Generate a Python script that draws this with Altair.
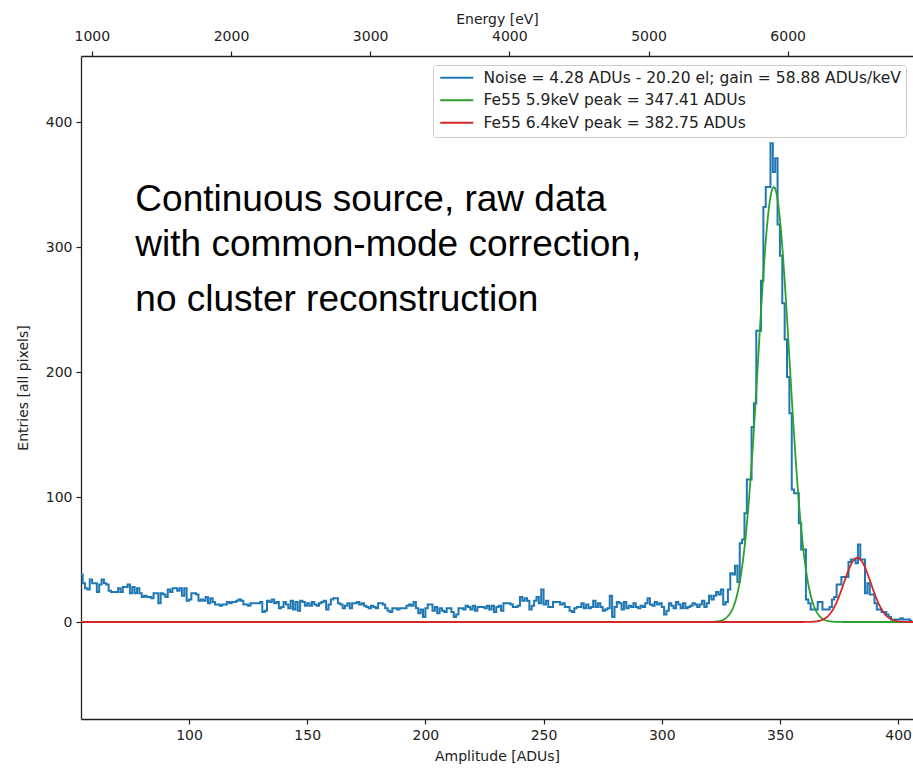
import altair as alt
import pandas as pd
import numpy as np

# ---------------- data ----------------
bin_start = 54          # left edge of first histogram bin [ADUs]
bin_width = 1           # [ADUs]
counts = [
    38, 31, 27, 26, 34, 31, 31, 24, 30, 34,
    31, 30, 25, 24, 24, 24, 27, 24, 28, 28,
    30, 23, 28, 23, 27, 23, 20, 21, 20, 20,
    19, 23, 23, 15, 23, 22, 20, 26, 24, 27,
    27, 25, 27, 21, 27, 17, 18, 23, 23, 22,
    17, 18, 17, 20, 15, 19, 16, 14, 14, 13,
    14, 14, 16, 15, 16, 16, 17, 18, 17, 14,
    14, 13, 15, 15, 15, 15, 16, 8, 9, 17,
    16, 18, 15, 16, 11, 12, 16, 14, 11, 17,
    10, 16, 9, 17, 16, 13, 15, 13, 16, 14,
    13, 15, 16, 17, 10, 14, 18, 19, 19, 15,
    14, 11, 13, 15, 11, 15, 15, 16, 14, 15,
    13, 12, 11, 13, 12, 11, 15, 15, 14, 11,
    9, 8, 11, 11, 10, 11, 11, 11, 13, 14,
    13, 16, 11, 7, 10, 4, 11, 14, 14, 9,
    12, 7, 11, 9, 8, 11, 11, 8, 4, 6,
    11, 11, 10, 13, 12, 10, 13, 9, 12, 12,
    12, 11, 13, 10, 13, 8, 12, 13, 9, 15,
    15, 15, 14, 12, 12, 13, 20, 17, 19, 17,
    10, 13, 17, 20, 15, 26, 14, 17, 12, 12,
    16, 16, 16, 14, 15, 12, 12, 9, 8, 11,
    12, 12, 15, 11, 14, 11, 12, 17, 12, 15,
    12, 9, 10, 11, 21, 4, 12, 16, 15, 10,
    16, 11, 13, 12, 15, 12, 11, 13, 12, 15,
    19, 14, 13, 16, 14, 15, 12, 6, 9, 15,
    13, 11, 16, 14, 11, 15, 11, 12, 13, 15,
    14, 12, 14, 17, 12, 15, 21, 18, 21, 24,
    22, 26, 14, 16, 26, 39, 38, 45, 32, 63,
    66, 87, 114, 114, 156, 175, 233, 233, 273, 332,
    348, 348, 383, 360, 371, 318, 293, 255, 226, 196,
    167, 106, 103, 103, 79, 58, 58, 18, 15, 10,
    10, 10, 16, 16, 10, 10, 10, 12, 18, 20,
    30, 30, 36, 36, 36, 48, 50, 50, 47, 62,
    50, 50, 23, 31, 22, 22, 15, 10, 10, 8,
    8, 6, 4, 2, 2, 2, 2, 3, 2, 2,
    2, 1,
]

noise_label = "Noise = 4.28 ADUs - 20.20 el; gain = 58.88 ADUs/keV"
fe59_label = "Fe55 5.9keV peak = 347.41 ADUs"
fe64_label = "Fe55 6.4keV peak = 382.75 ADUs"
series_labels = [noise_label, fe59_label, fe64_label]

gain = 58.88                      # ADUs/keV
fit_means = [347.41, 382.75]      # ADUs
fit_heights = [348.0, 51.4]       # entries
fit_sigmas = [6.6, 5.7]           # ADUs

x_ticks = [100, 150, 200, 250, 300, 350, 400]
y_ticks = [0, 100, 200, 300, 400]
energy_ticks = [1000, 2000, 3000, 4000, 5000, 6000]

annotation_lines = ["Continuous source, raw data",
                    "with common-mode correction,",
                    "no cluster reconstruction"]

# ---------------- layout / style ----------------
series_colors = ["#1f77b4", "#2ca02c", "#d62728"]
x_min, x_max = 54.3, 406.3
y_min, y_max = -77.6, 452.8
ann_x = 77.3
ann_y = [337.6, 301.6, 257.6]

# ---------------- tables ----------------
edges = [bin_start + i * bin_width for i in range(len(counts))]
hist_df = pd.DataFrame({
    "amp": edges + [edges[-1] + bin_width],
    "entries": counts + [counts[-1]],
    "series": noise_label,
})

grid = np.arange(x_min, x_max + 0.01, 0.2)
fit_frames = []
for label, mu, h, s in zip([fe59_label, fe64_label], fit_means, fit_heights, fit_sigmas):
    fit_frames.append(pd.DataFrame({
        "amp": grid,
        "entries": h * np.exp(-0.5 * ((grid - mu) / s) ** 2),
        "series": label,
    }))

ann_df = pd.DataFrame({"text": annotation_lines, "amp": [ann_x] * 3, "entries": ann_y})
energy_df = pd.DataFrame({"energy": energy_ticks})

xscale = alt.Scale(domain=[x_min, x_max], nice=False, zero=False)
yscale = alt.Scale(domain=[y_min, y_max], nice=False, zero=False)
cscale = alt.Scale(domain=series_labels, range=series_colors)

X = alt.X("amp:Q", scale=xscale,
          axis=alt.Axis(values=x_ticks, format="d", title="Amplitude [ADUs]", grid=False,
                        titlePadding=7))
Y = alt.Y("entries:Q", scale=yscale,
          axis=alt.Axis(values=y_ticks, format="d", title="Entries [all pixels]", grid=False,
                        titlePadding=15))

legend = alt.Legend(
    title=None, orient="none", legendX=352, legendY=9,
    symbolType="M-1,0H5", symbolSize=121, symbolStrokeWidth=2,
    labelFontSize=15.5, labelFont="DejaVu Sans", labelColor="#222222",
    labelOffset=30, labelLimit=800, rowPadding=5.5, padding=5,
    strokeColor="#cccccc", fillColor="white", cornerRadius=3,
)

hist = alt.Chart(hist_df).mark_line(interpolate="step-after", strokeWidth=2, clip=True).encode(
    x=X, y=Y, color=alt.Color("series:N", scale=cscale, legend=legend)
)
fit_green = alt.Chart(fit_frames[0]).mark_line(strokeWidth=1.8, clip=True).encode(
    x=X, y=Y, color=alt.Color("series:N", scale=cscale)
)
fit_red = alt.Chart(fit_frames[1]).mark_line(strokeWidth=1.8, clip=True).encode(
    x=X, y=Y, color=alt.Color("series:N", scale=cscale)
)
ann = alt.Chart(ann_df).mark_text(
    align="left", baseline="middle", font="Liberation Sans", fontSize=37, color="black"
).encode(x=X, y=Y, text="text:N")

main = alt.layer(hist, fit_green, fit_red, ann)

top_axis = alt.Chart(energy_df).mark_point(opacity=0).encode(
    x=alt.X("energy:Q",
            scale=alt.Scale(domain=[x_min / gain * 1000, x_max / gain * 1000], nice=False, zero=False),
            axis=alt.Axis(orient="top", values=energy_ticks, format="d", title="Energy [eV]", grid=False,
                          labelPadding=8, titlePadding=3))
)

chart = alt.layer(main, top_axis).resolve_scale(
    x="independent"
).properties(
    width=832, height=663,
    padding={"left": 81, "top": 56, "right": 0, "bottom": 49},
    autosize="none",
).configure_view(stroke=None).configure_axis(
    labelFont="DejaVu Sans", titleFont="DejaVu Sans",
    labelFontSize=14, titleFontSize=14, titleFontWeight="normal",
    labelColor="#222222", titleColor="#222222",
    domainColor="#222222", tickColor="#222222", domainWidth=1.3,
    tickSize=5, tickWidth=1.2, labelPadding=4, titlePadding=6,
)

chart.save("out.html", embed_options={"renderer": "svg", "actions": False})
